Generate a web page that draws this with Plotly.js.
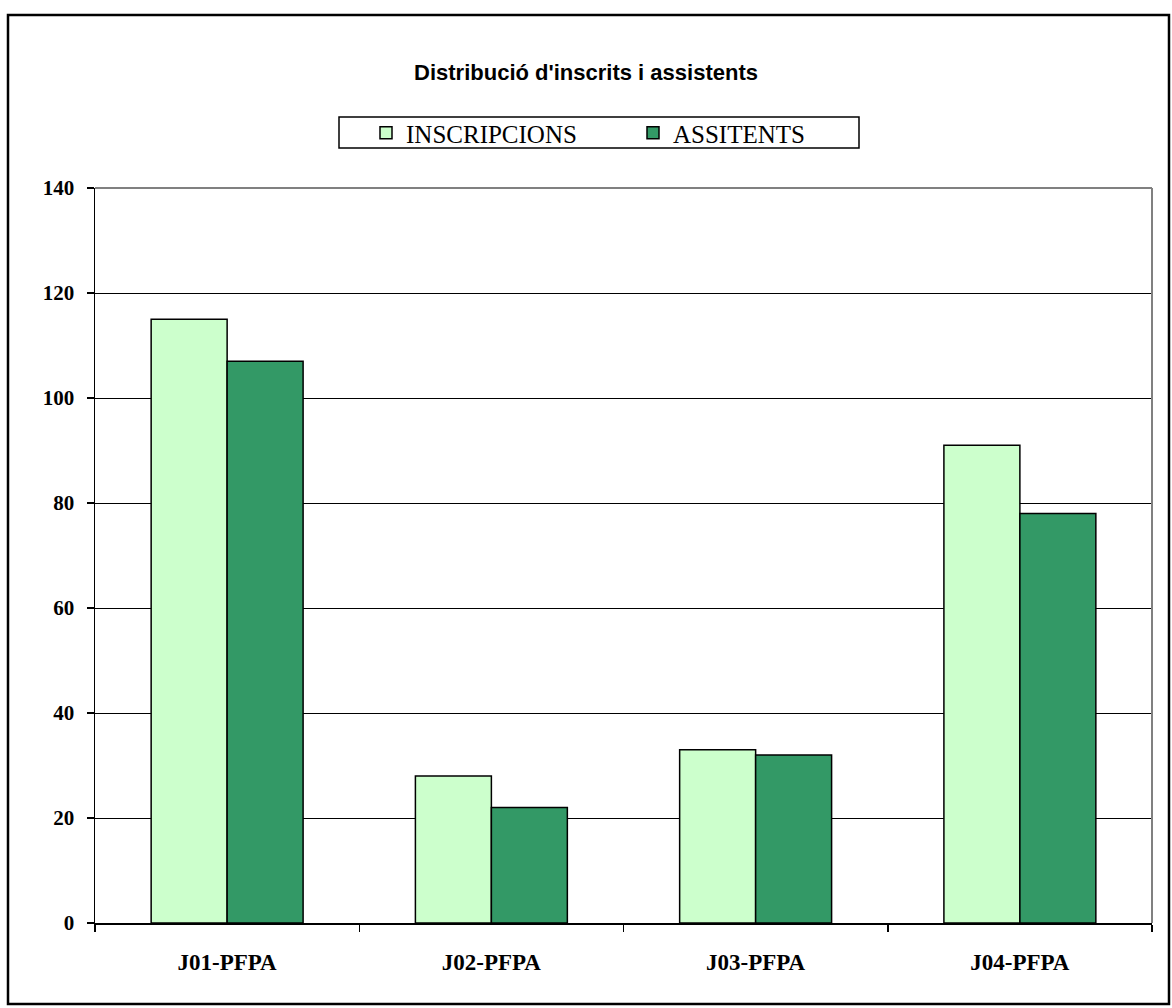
<!DOCTYPE html>
<html>
<head>
<meta charset="utf-8">
<script src="https://cdn.plot.ly/plotly-3.0.1.min.js"></script>
<style>
html,body{margin:0;padding:0;background:#fff;}
#chart{width:1172px;height:1008px;}
</style>
</head>
<body>
<div id="chart"></div>
<script>
const categories = ["J01-PFPA", "J02-PFPA", "J03-PFPA", "J04-PFPA"];
const inscripcions = [115, 28, 33, 91];
const assitents = [107, 22, 32, 78];
const seriesNames = ["INSCRIPCIONS", "ASSITENTS"];
const yTicks = [0, 20, 40, 60, 80, 100, 120, 140];

const L = 95, R = 20, T = 188, B = 85, W = 1172, H = 1008;
const pw = W - L - R, ph = H - T - B;
const px = x => (x - L) / pw;
const py = y => (H - B - y) / ph;

const serif = "Liberation Serif, Times New Roman, serif";

const traces = [
  {type: "bar", name: seriesNames[0], x: categories, y: inscripcions,
   marker: {color: "#CCFFCC", line: {color: "#000", width: 1.5}}},
  {type: "bar", name: seriesNames[1], x: categories, y: assitents,
   marker: {color: "#339966", line: {color: "#000", width: 1.5}}}
];

const layout = {
  width: W, height: H,
  margin: {l: L, r: R, t: T, b: B},
  paper_bgcolor: "#fff", plot_bgcolor: "#fff",
  barmode: "group", bargap: 0.425, bargroupgap: 0,
  title: {text: "Distribució d'inscrits i assistents",
          font: {family: "Liberation Sans, Arial, sans-serif", size: 22, color: "#000", weight: "bold"},
          x: 0.5, xanchor: "center", y: 1 - 72 / H, yanchor: "middle"},
  showlegend: true,
  legend: {orientation: "h", x: px(366), xanchor: "left", y: py(133), yanchor: "middle",
           font: {family: serif, size: 25, color: "#000"},
           bordercolor: "rgba(0,0,0,0)", borderwidth: 0, bgcolor: "rgba(0,0,0,0)",
           entrywidth: 222, itemwidth: 30, traceorder: "normal"},
  xaxis: {type: "category", showgrid: false, zeroline: false,
          showline: true, linecolor: "#000", linewidth: 1.5,
          ticks: "outside", tickson: "boundaries", ticklen: 7, tickcolor: "#000", tickwidth: 1.5,
          tickfont: {family: serif, size: 23, color: "#000", weight: "bold"},
          ticklabelstandoff: 18},
  yaxis: {range: [0, 140], tickvals: yTicks, ticktext: yTicks.map(String),
          showgrid: true, gridcolor: "#000", gridwidth: 1, zeroline: false,
          showline: true, linecolor: "#000", linewidth: 1.5,
          ticks: "outside", ticklen: 7, tickcolor: "#000", tickwidth: 1.5,
          tickfont: {family: serif, size: 21, color: "#000", weight: "bold"},
          ticklabelstandoff: 8},
  shapes: [
    {type: "line", xref: "paper", yref: "paper", x0: 0, x1: 1, y0: 1, y1: 1, line: {color: "#808080", width: 2}},
    {type: "line", xref: "paper", yref: "paper", x0: 1, x1: 1, y0: 0, y1: 1, line: {color: "#808080", width: 2}},
    {type: "rect", xref: "paper", yref: "paper", x0: px(339), x1: px(859), y0: py(148), y1: py(117),
     line: {color: "#000", width: 1.5}, fillcolor: "#fff", layer: "below"},
    {type: "rect", xref: "paper", yref: "paper", x0: px(8), x1: px(1169), y0: py(1004), y1: py(15),
     line: {color: "#000", width: 2.5}, fillcolor: "rgba(0,0,0,0)", layer: "below"}
  ]
};

Plotly.newPlot("chart", traces, layout, {displayModeBar: false, staticPlot: true});
</script>
</body>
</html>
